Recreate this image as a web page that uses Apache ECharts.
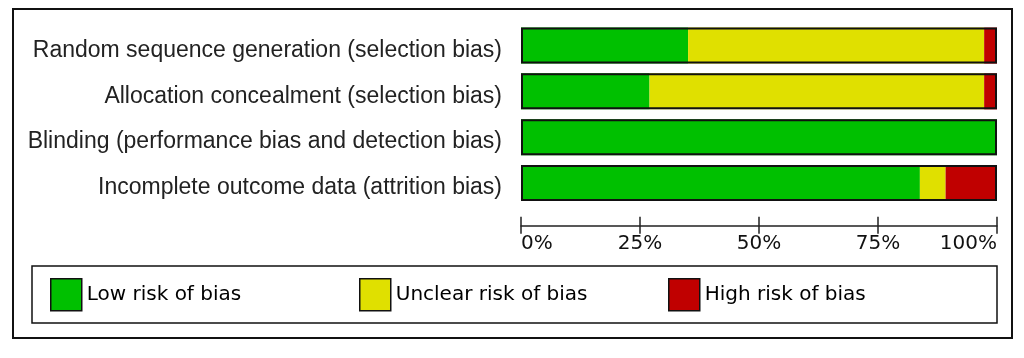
<!DOCTYPE html>
<html><head><meta charset="utf-8">
<script src="https://cdn.jsdelivr.net/npm/echarts@6/dist/echarts.min.js"></script>
<style>html,body{margin:0;padding:0;background:#fff}#c{width:1024px;height:358px}</style>
</head><body><div id="c"></div>
<script>
const categories = [
  'Random sequence generation (selection bias)',
  'Allocation concealment (selection bias)',
  'Blinding (performance bias and detection bias)',
  'Incomplete outcome data (attrition bias)'
];
const seriesNames = ['Low risk of bias', 'Unclear risk of bias', 'High risk of bias'];
const lowRisk = [35.1, 27.0, 100, 83.8];
const unclearRisk = [62.2, 70.3, 0, 5.4];
const highRisk = [2.7, 2.7, 0, 10.8];
const tickValues = [0, 25, 50, 75, 100];
const colors = ['#00C000', '#E0E000', '#C00000'];

const totals = categories.map((_, i) => lowRisk[i] + unclearRisk[i] + highRisk[i]);
const chart = echarts.init(document.getElementById('c'));
const values = [lowRisk, unclearRisk, highRisk];
const labelFont = { fontFamily: 'DejaVu Sans', fontSize: 20, color: '#000' };
const legendLefts = [50, 359, 668];

const option = {
  animation: false,
  grid: { left: 521, right: 27, top: 22.7, bottom: 358 - 205.8, containLabel: false },
  xAxis: [
    { type: 'value', min: tickValues[0], max: tickValues[tickValues.length - 1], interval: 25, offset: 20, position: 'bottom',
      axisLine: { show: true, lineStyle: { color: '#222', width: 1.5 } },
      axisTick: { show: true, inside: false, length: 8, lineStyle: { color: '#222', width: 1.5 } },
      splitLine: { show: false },
      axisLabel: { margin: 8, formatter: v => v + '%', alignMinLabel: 'left', alignMaxLabel: 'right',
        fontFamily: 'DejaVu Sans', fontSize: 20, color: '#111' } },
    { type: 'value', min: tickValues[0], max: tickValues[tickValues.length - 1], interval: 25, offset: 20, position: 'bottom',
      axisLine: { show: false },
      axisTick: { show: true, inside: true, length: 9, lineStyle: { color: '#222', width: 1.5 } },
      splitLine: { show: false }, axisLabel: { show: false } }
  ],
  yAxis: { type: 'category', data: categories, inverse: true,
    axisLine: { show: false }, axisTick: { show: false },
    axisLabel: { margin: 19, formatter: v => '{a|' + v + '}',
      rich: { a: { padding: [10, 0, 0, 0], fontFamily: 'Liberation Sans', fontSize: 23, color: '#222' } } } },
  legend: legendLefts.map((l, i) => ({
    data: [seriesNames[i]], left: l, top: 278, padding: 0, itemWidth: 31, itemHeight: 32, itemGap: 0,
    icon: 'rect', selectedMode: false,
    itemStyle: { borderColor: '#111', borderWidth: 1.5 },
    textStyle: labelFont
  })),
  graphic: [
    { type: 'rect', shape: { x: 13, y: 9, width: 999, height: 329 }, style: { fill: 'none', stroke: '#111', lineWidth: 2 }, z: -1 },
    { type: 'rect', shape: { x: 32, y: 266, width: 965, height: 57 }, style: { fill: 'none', stroke: '#111', lineWidth: 1.5 }, z: -1 }
  ],
  series: values.map((d, i) => ({
    name: seriesNames[i], type: 'bar', stack: 'risk', data: d, barWidth: 36, barGap: '-100%',
    itemStyle: { color: colors[i] }, xAxisIndex: 0
  })).concat([{
    name: 'outline', type: 'bar', data: totals, barWidth: 36, barGap: '-100%', z: 5, silent: true,
    itemStyle: { color: 'rgba(0,0,0,0)', borderColor: '#111', borderWidth: 2 }, xAxisIndex: 0
  }])
};
chart.setOption(option);
</script></body></html>
